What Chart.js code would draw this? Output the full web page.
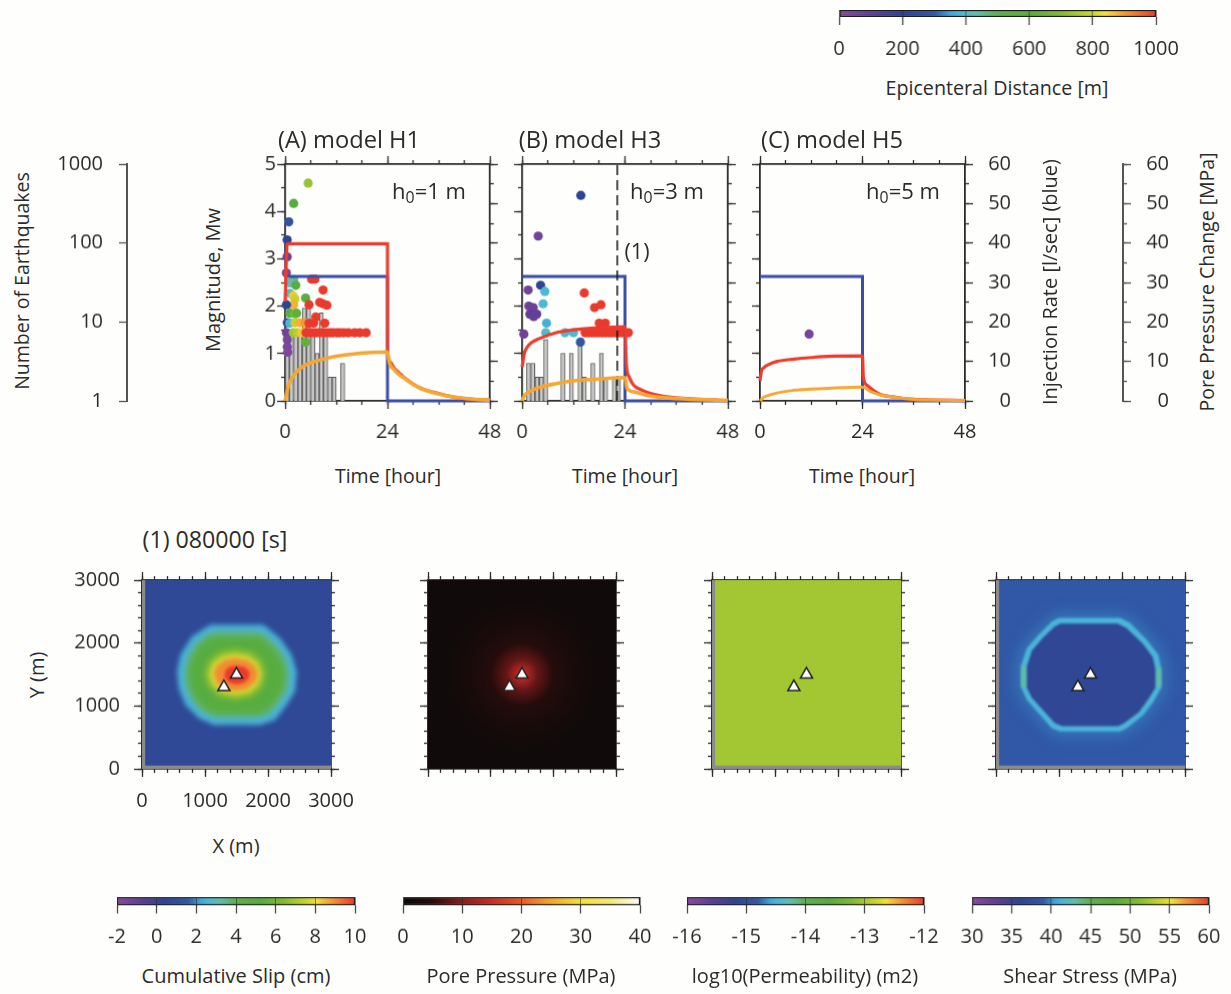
<!DOCTYPE html>
<html>
<head>
<meta charset="utf-8">
<title>Induced seismicity models</title>
<script src="https://cdn.jsdelivr.net/npm/chart.js@4/dist/chart.umd.min.js"></script>
<style>
  html, body { margin: 0; padding: 0; background: #fefefc; }
  #page { position: relative; width: 1231px; height: 994px; overflow: hidden; background: #fefefc; font-family: "Open Sans", sans-serif; color: #2b2b2b; }
  #page canvas { position: absolute; }
  .lbl { position: absolute; white-space: nowrap; line-height: 1; }
  .lbl sub { font-size: 0.72em; vertical-align: -0.25em; line-height: 0; }
</style>
</head>
<body>
<div id="page"></div>
<script>
// histogram, hours since start and counts per hour
const histHoursA = [0, 1, 2, 3, 4, 5, 6, 7, 8, 9, 10, 11, 13];
const histCountA = [8, 8, 8, 8, 15, 15, 8, 4, 13, 8, 2, 2, 3];
const histHoursB = [1, 2, 3, 4, 5, 9, 11, 13, 14, 16, 18, 19, 21, 22];
const histCountB = [3, 3, 2, 2, 6, 4, 4, 5, 2, 3, 4, 2, 2, 2];

// earthquakes: time [hour], magnitude, epicentral distance [m]
const quakeTimeA = [5.4, 2.0, 0.86, 0.47, 0.47, 0.3, 2.0, 1.1, 2.5, 6.2, 7.0, 8.9, 1.1, 1.9, 4.8, 2.3, 2.0, 0.3, 5.6, 8.1, 8.9, 9.8, 1.1, 2.3, 2.7, 7.2, 0.5, 1.1, 2.3, 3.4, 4.6, 5.6, 6.7, 9.3, 0.3, 1.9, 2.8, 3.8, 4.9, 5.6, 6.4, 7.2, 8.0, 8.9, 9.7, 10.5, 11.2, 12.1, 12.8, 13.7, 14.8, 16.3, 17.5, 19.0, 4.8, 0.5, 0.5, 0.6];
const quakeMagA = [4.6, 4.17, 3.78, 3.4, 3.04, 2.7, 2.56, 2.49, 2.44, 2.57, 2.57, 2.34, 2.27, 2.22, 2.17, 2.15, 2.03, 2.03, 2.03, 2.08, 2.05, 2.02, 1.85, 1.84, 1.85, 1.77, 1.65, 1.64, 1.65, 1.65, 1.65, 1.64, 1.64, 1.64, 1.44, 1.44, 1.44, 1.44, 1.44, 1.44, 1.44, 1.44, 1.44, 1.44, 1.44, 1.44, 1.44, 1.44, 1.44, 1.44, 1.44, 1.44, 1.44, 1.44, 1.24, 1.29, 1.14, 1.03];
const quakeDistA = [730, 600, 280, 200, 90, 40, 450, 430, 590, 1000, 1000, 1000, 400, 860, 590, 790, 880, 200, 1000, 1000, 1000, 1000, 560, 700, 620, 1000, 220, 380, 790, 880, 900, 1000, 1000, 1000, 60, 740, 770, 860, 1000, 1000, 1000, 1000, 1000, 1000, 1000, 1000, 1000, 1000, 1000, 1000, 1000, 1000, 1000, 1000, 620, 40, 40, 30];

const quakeTimeB = [13.7, 3.75, 4.3, 1.4, 5.3, 4.9, 1.56, 2.6, 1.8, 2.7, 3.4, 5.7, 0.4, 5.5, 10, 12, 13.6, 14.5, 16.9, 18.4, 18, 19.4, 14.7, 15.5, 16.3, 17.1, 17.9, 18.7, 19.5, 20.3, 21, 21.8, 22.6, 23.4, 24.2, 24.8];
const quakeMagB = [4.34, 3.48, 2.44, 2.34, 2.31, 2.05, 2.0, 1.97, 1.83, 1.78, 1.83, 1.64, 1.41, 1.44, 1.44, 1.44, 1.24, 2.28, 1.97, 2.03, 1.64, 1.64, 1.44, 1.44, 1.44, 1.44, 1.44, 1.44, 1.44, 1.44, 1.44, 1.44, 1.44, 1.44, 1.44, 1.44];
const quakeDistB = [210, 60, 210, 60, 385, 390, 70, 70, 90, 90, 90, 365, 60, 400, 385, 385, 290, 1000, 1000, 1000, 1000, 1000, 1000, 1000, 1000, 1000, 1000, 1000, 1000, 1000, 1000, 1000, 1000, 1000, 1000, 1000];

const quakeTimeC = [11.5];
const quakeMagC = [1.41];
const quakeDistC = [40];

// injection rate, same for all three models
const rateTime = [0, 24, 24, 48];
const rateValue = [31.5, 31.5, 0, 0];

// pore pressure change at injection point (red) and at the fault (orange)
const redTimeA = [0, 0.5, 24, 24.02, 24.5, 25.5, 26.8, 27.7, 31.6, 35.5, 39.4, 43.3, 48];
const redValueA = [25.2, 39.8, 39.8, 12.4, 10, 8.4, 7, 6.1, 3.3, 2, 1, 0.5, 0.2];
const orangeTimeA = [0, 0.4, 1, 2, 4, 8, 12, 16, 24, 24.5, 25.5, 26.8, 27.7, 31.6, 35.5, 39.4, 43.3, 48];
const orangeValueA = [0, 2.2, 4.4, 6.5, 8.6, 10.3, 11.3, 11.9, 12.4, 9.5, 8, 6.6, 5.9, 3.2, 1.9, 1, 0.5, 0.2];

const redTimeB = [0, 0.5, 1, 2, 4, 8, 12, 16, 24, 24.3, 25, 26, 28, 32, 40, 48];
const redValueB = [8.6, 12, 13.3, 14.6, 15.8, 17.3, 18, 18.4, 18.8, 9.5, 6, 4, 2.7, 1.4, 0.5, 0.1];
const orangeTimeB = [0, 0.4, 1, 2, 4, 8, 12, 16, 24, 24.5, 26, 30, 36, 48];
const orangeValueB = [0, 1.1, 1.9, 2.5, 3.4, 4.4, 5.1, 5.4, 5.9, 3.1, 2.3, 1.2, 0.6, 0.1];

const redTimeC = [0, 0.3, 1, 2, 4, 8, 12, 16, 24, 24.2, 25, 28, 32, 36, 40, 48];
const redValueC = [5.1, 7.4, 8.5, 9.2, 10, 10.6, 11, 11.3, 11.4, 6.1, 4, 1.7, 0.9, 0.4, 0.25, 0.1];
const orangeTimeC = [0, 1, 2, 4, 8, 12, 16, 24, 26, 28, 32, 36, 40, 48];
const orangeValueC = [0, 1, 1.4, 2, 2.7, 3, 3.2, 3.5, 2.3, 1.6, 0.85, 0.4, 0.25, 0.1];

const dashTime = [22.2, 22.2];
const dashValue = [0, 60];

// wells on the 3 km fault patch
const wellX = [1500, 1300];
const wellY = [1500, 1300];

// slip contours: value [cm] and polygon vertices [m]
const slipBackground = 0.7;
const slipLevels = [2.5, 3.6, 5.0, 6.3, 7.7, 9.0, 10];
const slipBlur = [2.5, 3, 3, 2.5, 2.5, 2, 1.5];
const slipContours = [
  [[1083,2290],[1928,2290],[2192,2078],[2377,1813],[2457,1548],[2430,1230],[2298,1018],[2113,779],[1875,700],[1136,700],[898,806],[687,1018],[581,1283],[555,1548],[608,1813],[792,2104]],
  [[1100,2170],[1900,2170],[2100,1990],[2260,1780],[2330,1540],[2300,1250],[2180,1060],[2020,870],[1850,820],[1170,820],[970,900],[800,1080],[700,1300],[680,1540],[730,1780],[880,2020]],
  [[1100,2110],[1880,2110],[2060,1950],[2210,1750],[2280,1530],[2250,1270],[2130,1090],[1990,920],[1830,870],[1180,870],[1000,950],[850,1110],[750,1320],[730,1530],[780,1760],[920,1980]],
  [[1480,1930],[1760,1880],[1930,1720],[1990,1500],[1930,1290],[1760,1130],[1480,1075],[1200,1130],[1030,1300],[970,1500],[1030,1710],[1210,1880]],
  [[1480,1840],[1700,1800],[1850,1680],[1905,1500],[1850,1330],[1700,1200],[1480,1165],[1250,1210],[1110,1340],[1056,1500],[1110,1680],[1270,1800]],
  [[1480,1760],[1680,1720],[1800,1620],[1840,1500],[1800,1380],[1660,1270],[1480,1240],[1300,1270],[1180,1390],[1140,1520],[1190,1640],[1310,1730]],
  [[1500,1640],[1640,1610],[1710,1530],[1690,1430],[1600,1360],[1480,1345],[1370,1380],[1310,1460],[1320,1560],[1390,1620]]
];

// pore pressure around the injection point
const poreRadius = [0, 100, 250, 500, 800, 1200];
const poreValue = [15, 12.5, 8, 4, 2.4, 1];

const permeabilityValue = -13.02;

// shear stress contours [MPa], polygon vertices [m]
const shearBackground = 38.8;
const shearHaloValue = 39.5;
const shearHalo = [[950,2490],[2010,2490],[2190,2390],[2470,2110],[2670,1840],[2720,1610],[2720,1260],[2590,1030],[2400,790],[2120,560],[1990,500],[1000,500],[840,560],[580,860],[410,1060],[310,1260],[310,1680],[410,1970],[620,2200],[850,2420]];
const shearRingValue = 41.4;
const shearRing = [[993,2396],[1971,2396],[2129,2316],[2393,2051],[2578,1813],[2620,1601],[2620,1283],[2499,1071],[2340,859],[2076,647],[1971,594],[1020,594],[888,647],[650,912],[491,1097],[402,1283],[402,1654],[491,1919],[676,2131],[888,2343]];
const shearSideValue = 43.2;
const shearSideRight = [[2530,1600],[2620,1600],[2620,1300],[2530,1300]];
const shearSideLeft = [[402,1640],[490,1640],[490,1300],[402,1300]];
const shearInnerValue = 36.5;
const shearInner = [[1020,2310],[1930,2310],[2070,2240],[2330,1990],[2490,1770],[2530,1590],[2530,1290],[2420,1110],[2270,900],[2040,730],[1940,680],[1050,680],[930,730],[720,960],[570,1130],[490,1290],[490,1630],[570,1880],[740,2080],[930,2260]];

// colour scales
const rainbowStops = [0, 0.1, 0.2, 0.3, 0.35, 0.38, 0.43, 0.5, 0.6, 0.7, 0.8, 0.84, 0.9, 1];
const rainbowColors = ["#8a4a9e", "#5f3f96", "#2f4390", "#305aa8", "#42a5d8", "#4bb6d8", "#62bdb0", "#5fb04f", "#57ac3e", "#80bb36", "#cdd62e", "#f4e03a", "#f49a35", "#ea3a2c"];
const heatStops = [0, 0.12, 0.25, 0.38, 0.5, 0.6, 0.75, 0.88, 1];
const heatColors = ["#0a0a0a", "#2a0c0c", "#8a1d1d", "#c92f25", "#ec5a25", "#f39a30", "#f5e13a", "#f3ea80", "#fffef0"];

const INK = "#2c2c2c";

const page = document.getElementById("page");

function hex(c) {
  return [1, 3, 5].map(function (i) { return parseInt(c.substr(i, 2), 16); });
}

function colorAt(stops, colors, f) {
  f = Math.max(0, Math.min(1, f));
  let i = 1;
  while (i < stops.length - 1 && stops[i] < f) i++;
  const t = (f - stops[i - 1]) / (stops[i] - stops[i - 1]);
  const a = hex(colors[i - 1]), b = hex(colors[i]);
  return "rgb(" + a.map(function (v, k) { return Math.round(v + (b[k] - v) * t); }).join(",") + ")";
}

function rainbow(v, min, max) {
  return colorAt(rainbowStops, rainbowColors, (v - min) / (max - min));
}

function toPoints(xs, ys) {
  return xs.map(function (x, i) { return { x: x, y: ys[i] }; });
}

function polyPoints(poly) {
  return poly.map(function (p) { return { x: p[0], y: p[1] }; });
}

// filled polygons and radial fields, positioned by the scales through the parsed elements
const regionPlugin = {
  id: "regionFill",
  beforeDatasetDraw(chart, args) {
    const ds = chart.data.datasets[args.index];
    if (!ds.region) return;
    const ctx = chart.ctx;
    const area = chart.chartArea;
    const pts = chart.getDatasetMeta(args.index).data;
    ctx.save();
    ctx.beginPath();
    ctx.rect(area.left, area.top, area.right - area.left, area.bottom - area.top);
    ctx.clip();
    if (ds.region === "radial") {
      const R = pts[pts.length - 1].x - pts[0].x;
      const g = ctx.createRadialGradient(pts[0].x, pts[0].y, 0, pts[0].x, pts[0].y, R);
      pts.forEach(function (p, i) { g.addColorStop((p.x - pts[0].x) / R, ds.stopColors[i]); });
      ctx.fillStyle = g;
      ctx.fillRect(area.left, area.top, area.right - area.left, area.bottom - area.top);
    } else {
      if (ds.blur) ctx.filter = "blur(" + ds.blur + "px)";
      ctx.fillStyle = ds.fillColor;
      ctx.beginPath();
      pts.forEach(function (p, i) { if (i) ctx.lineTo(p.x, p.y); else ctx.moveTo(p.x, p.y); });
      ctx.closePath();
      ctx.fill();
    }
    ctx.restore();
    return false;
  },
};

function fixedSize(size) {
  return function (s) {
    if (s.isHorizontal()) s.height = size; else s.width = size;
    s.paddingLeft = s.paddingRight = s.paddingTop = s.paddingBottom = 0;
  };
}

// one axis line: minor ticks with no room taken, major ticks optionally labelled
function axis(position, min, max, step, len, extra) {
  const e = extra || {};
  return {
    type: e.type || "linear",
    position: position,
    display: true,
    min: min,
    max: max,
    offset: false,
    weight: e.size ? 1 : 0,
    afterFit: fixedSize(e.size || 0),
    afterBuildTicks: e.tickValues ? function (s) { s.ticks = e.tickValues.map(function (v) { return { value: v }; }); } : undefined,
    border: { display: e.border !== false, color: e.borderColor || INK, width: e.borderWidth || 1.8 },
    grid: { display: true, drawOnChartArea: false, offset: false, tickLength: len, tickWidth: 1.3, tickColor: e.tickColor || INK, color: e.tickColor || INK },
    ticks: {
      display: !!e.size,
      stepSize: step,
      autoSkip: false,
      maxRotation: 0,
      padding: e.padding === undefined ? 4 : e.padding,
      crossAlign: e.crossAlign || "near",
      color: "#2b2b2b",
      font: { family: "'Open Sans'", size: 20 },
      callback: function (v) { return String(v); },
    },
  };
}

function hiddenAxis(type, min, max) {
  return { type: type, display: false, min: min, max: max, offset: false, grid: { offset: false } };
}

// lays a chart so that the plot area is exactly the given rectangle
function place(rect, margins, sized, config) {
  const canvas = document.createElement("canvas");
  const w = rect.r - rect.l + margins.l + margins.r;
  const h = rect.b - rect.t + margins.t + margins.b;
  canvas.width = w;
  canvas.height = h;
  canvas.style.left = rect.l - margins.l + "px";
  canvas.style.top = rect.t - margins.t + "px";
  canvas.style.width = w + "px";
  canvas.style.height = h + "px";
  page.appendChild(canvas);
  config.options.responsive = false;
  config.options.animation = false;
  config.options.events = [];
  config.options.plugins = { legend: { display: false }, tooltip: { enabled: false }, title: { display: false } };
  config.options.layout = {
    padding: {
      left: margins.l - (sized.l || 0),
      right: margins.r - (sized.r || 0),
      top: margins.t - (sized.t || 0),
      bottom: margins.b - (sized.b || 0),
    },
  };
  return new Chart(canvas, config);
}

function panel(rect, opts) {
  const datasets = [
    {
      type: "scatter", label: "rate", data: toPoints(rateTime, rateValue), yAxisID: "y60",
      showLine: true, borderColor: "#3a4fa3", borderWidth: 3, pointRadius: 0, clip: false, order: 4,
    },
    {
      type: "scatter", label: "pressure", data: toPoints(opts.redTime, opts.redValue), yAxisID: "y60",
      showLine: true, borderColor: "#ee3b2e", borderWidth: 3.2, pointRadius: 0, clip: false, order: 3,
      cubicInterpolationMode: "monotone",
    },
    {
      type: "scatter", label: "pressure at fault", data: toPoints(opts.orangeTime, opts.orangeValue), yAxisID: "y60",
      showLine: true, borderColor: "#f5a733", borderWidth: opts.orangeWidth, pointRadius: 0, clip: false, order: 1,
      cubicInterpolationMode: "monotone",
    },
    {
      type: "scatter", label: "events", data: toPoints(opts.quakeTime, opts.quakeMag), yAxisID: "yMag",
      pointRadius: 4.6, borderWidth: 0, clip: false, order: 5,
      backgroundColor: opts.quakeDist.map(function (d) { return rainbow(d, 0, 1000); }),
    },
  ];
  if (opts.histHours) {
    datasets.push({
      type: "bar", label: "count", yAxisID: "yCount", xAxisID: "x",
      data: toPoints(opts.histHours.map(function (h) { return h + 0.5; }), opts.histCount),
      backgroundColor: "#c9c9c9", borderColor: "#555", borderWidth: 1, barThickness: 4, order: 6,
    });
  }
  if (opts.dashed) {
    datasets.push({
      type: "scatter", label: "snapshot", data: toPoints(dashTime, dashValue), yAxisID: "y60",
      showLine: true, borderColor: "#111", borderWidth: 1.5, borderDash: [10, 5], pointRadius: 0, order: 2,
    });
  }
  const scales = {
    x: axis("bottom", 0, 48, 24, 8, { size: 45, padding: 11 }),
    xMinor: axis("bottom", 0, 48, 6, 4, { border: false }),
    xTop: axis("top", 0, 48, 24, 8),
    xTopMinor: axis("top", 0, 48, 6, 4, { border: false }),
    yMag: axis("left", 0, 5, 1, 8, opts.leftLabels ? { size: 40, padding: 1 } : {}),
    yMagMinor: axis("left", 0, 5, 0.5, 4, { border: false }),
    y60: axis("right", 0, 60, 10, 8, opts.rightLabels ? { size: 46, padding: 17, crossAlign: "far" } : {}),
    y60Minor: axis("right", 0, 60, 5, 4, { border: false }),
    yCount: hiddenAxis("logarithmic", 1, 1000),
  };
  place(rect, { l: 40, r: 70, t: 20, b: 45 }, { l: opts.leftLabels ? 40 : 0, r: opts.rightLabels ? 46 : 0, b: 45 }, {
    type: "scatter",
    data: { datasets: datasets },
    options: { scales: scales },
  });
}

function fieldMap(rect, datasets, labelled) {
  const all = datasets.concat([{
    type: "scatter", label: "wells", data: toPoints(wellX, wellY), pointStyle: "triangle", pointRadius: 7,
    backgroundColor: "#ffffff", borderColor: "#222", borderWidth: 1.5, clip: false,
  }]);
  all.forEach(function (d, i) { d.order = all.length - i; });
  const scales = {
    x: axis("bottom", 0, 3000, 1000, 8, labelled ? { size: 45, padding: 12 } : {}),
    xMinor: axis("bottom", 0, 3000, 200, 4, { border: false }),
    xTop: axis("top", 0, 3000, 1000, 8),
    xTopMinor: axis("top", 0, 3000, 200, 4, { border: false }),
    y: axis("left", 0, 3000, 1000, 8, labelled ? { size: 70, padding: 14 } : {}),
    yMinor: axis("left", 0, 3000, 200, 4, { border: false }),
    yRight: axis("right", 0, 3000, 1000, 8),
    yRightMinor: axis("right", 0, 3000, 200, 4, { border: false }),
  };
  place(rect, { l: 70, r: 34, t: 20, b: 45 }, { l: labelled ? 70 : 0, b: labelled ? 45 : 0 }, {
    type: "scatter",
    data: { datasets: all },
    plugins: [regionPlugin],
    options: { scales: scales },
  });
}

function region(poly, color, blur) {
  return { type: "scatter", region: "poly", data: polyPoints(poly), fillColor: color, blur: blur || 0, pointRadius: 0 };
}

function base(color) {
  return [
    region([[0, 0], [3000, 0], [3000, 3000], [0, 3000]], "#8b8b8b"),
    region([[50, 50], [3000, 50], [3000, 3000], [50, 3000]], color),
  ];
}

function colorBar(rect, min, max, step, paint, labelPad) {
  place(rect, { l: 30, r: 30, t: 4, b: 40 }, { b: 40 }, {
    type: "bar",
    data: {
      labels: [""],
      datasets: [{
        data: [[min, max]],
        borderColor: "#1c1c1c",
        borderWidth: 1.5,
        borderSkipped: false,
        barPercentage: 1,
        categoryPercentage: 1,
        backgroundColor: function (c) {
          const area = c.chart.chartArea;
          if (!area) return "#888";
          const g = c.chart.ctx.createLinearGradient(area.left, 0, area.right, 0);
          paint.stops.forEach(function (s, i) { g.addColorStop(s, paint.colors[i]); });
          return g;
        },
      }],
    },
    options: {
      indexAxis: "y",
      scales: {
        x: Object.assign(axis("bottom", min, max, step, 8, { size: 40, padding: labelPad, border: false, tickColor: "#4a4a4a" }), {
          grid: { display: true, drawOnChartArea: true, z: 1, offset: false, tickLength: 8, tickWidth: 1.3, color: "rgba(40,40,40,0.55)", tickColor: "#4a4a4a" },
        }),
        y: { type: "category", display: false, offset: true, grid: { offset: true } },
      },
    },
  });
}

function sideAxis(rect, scaleCfg, minorCfg) {
  const sized = scaleCfg.position === "left" ? { l: 70 } : { r: 46 };
  const scales = { yA: scaleCfg };
  if (minorCfg) scales.yB = minorCfg;
  scales.x = hiddenAxis("linear", 0, 1);
  place(rect, { l: 70, r: 70, t: 16, b: 16 }, sized, {
    type: "scatter",
    data: { datasets: [{ data: [], yAxisID: "yA", xAxisID: "x" }] },
    options: { scales: scales },
  });
}

function label(html, x, y, size, rot) {
  const d = document.createElement("div");
  d.className = "lbl";
  d.innerHTML = html;
  d.style.left = x + "px";
  d.style.top = y + "px";
  d.style.fontSize = size + "px";
  d.style.transform = "translate(-50%,-50%)" + (rot ? " rotate(" + rot + "deg)" : "");
  page.appendChild(d);
}

const TOP = 164.3, BOTTOM = 400.7;

sideAxis({ l: 127, r: 128, t: TOP, b: BOTTOM },
  axis("left", 1, 1000, undefined, 8, { type: "logarithmic", size: 70, padding: 16, tickValues: [1, 10, 100, 1000], borderColor: "#555", tickColor: "#555", borderWidth: 2 }));
sideAxis({ l: 1122, r: 1123, t: TOP, b: BOTTOM },
  axis("right", 0, 60, 10, 8, { size: 46, padding: 17, crossAlign: "far", borderColor: "#555", tickColor: "#555", borderWidth: 2 }),
  axis("right", 0, 60, 5, 4, { border: false, tickColor: "#555" }));

panel({ l: 285.3, r: 490, t: TOP, b: BOTTOM }, {
  leftLabels: true, orangeWidth: 3.6,
  histHours: histHoursA, histCount: histCountA,
  quakeTime: quakeTimeA, quakeMag: quakeMagA, quakeDist: quakeDistA,
  redTime: redTimeA, redValue: redValueA, orangeTime: orangeTimeA, orangeValue: orangeValueA,
});
panel({ l: 522.3, r: 727.7, t: TOP, b: BOTTOM }, {
  dashed: true, orangeWidth: 3.6,
  histHours: histHoursB, histCount: histCountB,
  quakeTime: quakeTimeB, quakeMag: quakeMagB, quakeDist: quakeDistB,
  redTime: redTimeB, redValue: redValueB, orangeTime: orangeTimeB, orangeValue: orangeValueB,
});
panel({ l: 759.7, r: 965, t: TOP, b: BOTTOM }, {
  rightLabels: true, orangeWidth: 3,
  quakeTime: quakeTimeC, quakeMag: quakeMagC, quakeDist: quakeDistC,
  redTime: redTimeC, redValue: redValueC, orangeTime: orangeTimeC, orangeValue: orangeValueC,
});

const MAP_T = 580.3, MAP_B = 769;
const slipSets = base(rainbow(slipBackground, -2, 10)).concat(slipContours.map(function (poly, i) {
  return region(poly, rainbow(slipLevels[i], -2, 10), slipBlur[i]);
}));
fieldMap({ l: 141.7, r: 331, t: MAP_T, b: MAP_B }, slipSets, true);

const poreSets = base("#151111").concat([{
  type: "scatter", region: "radial", pointRadius: 0,
  data: poreRadius.map(function (r) { return { x: 1500 + r, y: 1500 }; }),
  stopColors: poreValue.map(function (v) { return colorAt(heatStops, heatColors, v / 40); }),
}]);
fieldMap({ l: 427.5, r: 616, t: MAP_T, b: MAP_B }, poreSets, false);

fieldMap({ l: 712, r: 901, t: MAP_T, b: MAP_B }, base(rainbow(permeabilityValue, -16, -12)), false);

const shearSets = base(rainbow(shearBackground, 30, 60)).concat([
  region(shearHalo, rainbow(shearHaloValue, 30, 60), 7),
  region(shearRing, rainbow(shearRingValue, 30, 60), 1),
  region(shearSideRight, rainbow(shearSideValue, 30, 60), 1.5),
  region(shearSideLeft, rainbow(shearSideValue, 30, 60), 1.5),
  region(shearInner, rainbow(shearInnerValue, 30, 60), 1),
]);
fieldMap({ l: 995.7, r: 1185, t: MAP_T, b: MAP_B }, shearSets, false);

const rainbowPaint = { stops: rainbowStops, colors: rainbowColors };
const heatPaint = { stops: heatStops, colors: heatColors };
colorBar({ l: 839.3, r: 1155.7, t: 9.5, b: 17 }, 0, 1000, 200, rainbowPaint, 12);
colorBar({ l: 117, r: 355, t: 897, b: 905.5 }, -2, 10, 2, rainbowPaint, 11);
colorBar({ l: 402.5, r: 639.5, t: 897, b: 905.5 }, 0, 40, 10, heatPaint, 11);
colorBar({ l: 686.8, r: 924.3, t: 897, b: 905.5 }, -16, -12, 1, rainbowPaint, 11);
colorBar({ l: 971.8, r: 1208.6, t: 897, b: 905.5 }, 30, 60, 5, rainbowPaint, 11);

label("Epicenteral Distance [m]", 997, 88, 19.7);
label("(A) model H1", 349, 140, 23.7);
label("(B) model H3", 590, 140, 23.7);
label("(C) model H5", 832, 140, 23.7);
label("h<sub>0</sub>=1 m", 429, 190, 22);
label("h<sub>0</sub>=3 m", 667, 190, 22);
label("h<sub>0</sub>=5 m", 903, 190, 22);
label("(1)", 637, 251, 21.5);
label("Time [hour]", 388, 476, 19.5);
label("Time [hour]", 625, 476, 19.5);
label("Time [hour]", 862, 476, 19.5);
label("Number of Earthquakes", 22, 281, 19.5, -90);
label("Magnitude, Mw", 213, 280, 20, -90);
label("Injection Rate [l/sec] (blue)", 1050, 282, 20, -90);
label("Pore Pressure Change [MPa]", 1207, 282, 19.5, -90);
label("(1) 080000 [s]", 215, 540, 23.2);
label("X (m)", 236, 846, 20);
label("Y (m)", 37, 675, 20, -90);
label("Cumulative Slip (cm)", 236, 976, 20);
label("Pore Pressure (MPa)", 521, 976, 20);
label("log10(Permeability) (m2)", 805, 976, 20);
label("Shear Stress (MPa)", 1090, 976, 20);
</script>
</body>
</html>
